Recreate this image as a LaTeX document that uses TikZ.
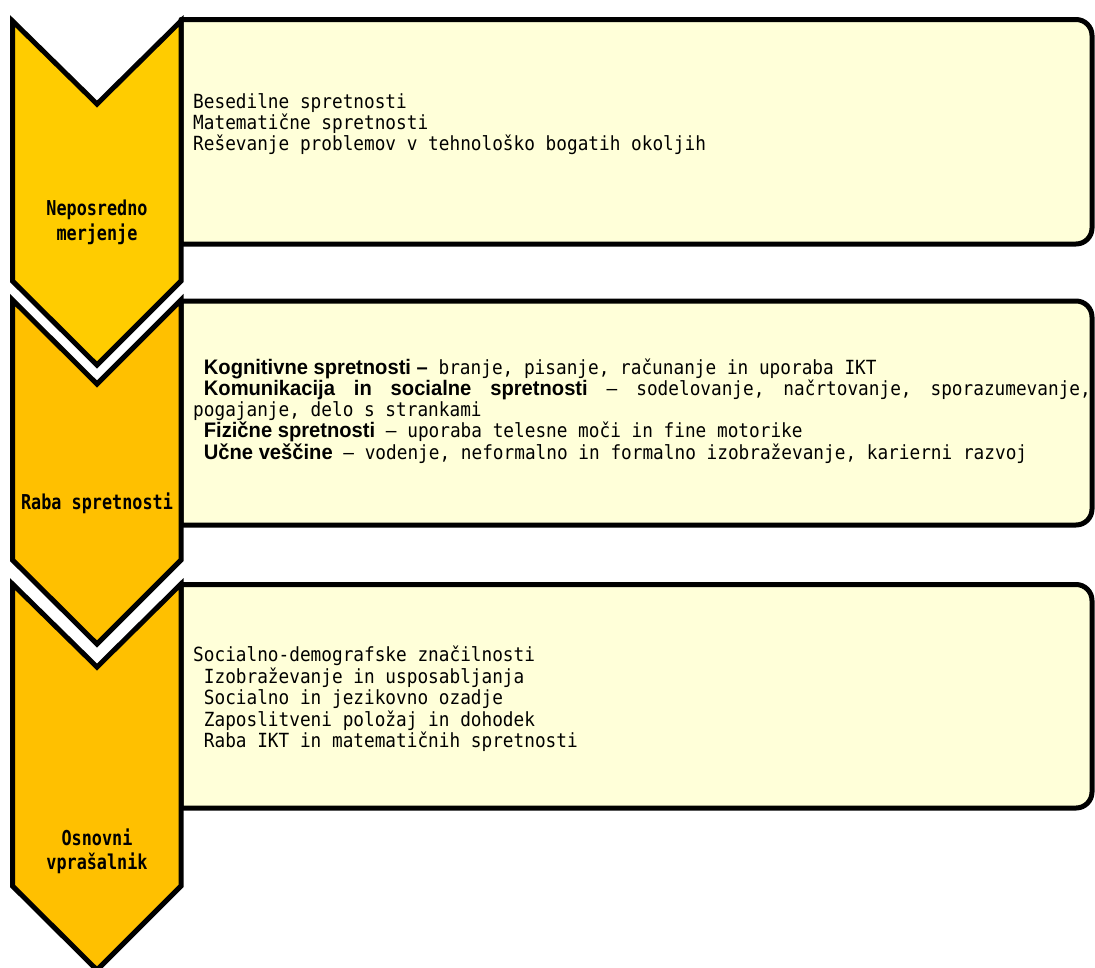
\documentclass[tikz,border=0pt]{standalone}
\usepackage{fontspec}
\newfontfamily\boxfont{DejaVu Sans Mono}[FakeStretch=0.91]
\newfontfamily\labfont{DejaVu Sans Mono}[FakeStretch=0.82]
\newfontfamily\headfont{Liberation Sans}[FakeStretch=0.96]
\definecolor{chevA}{RGB}{255,204,0}
\definecolor{chevB}{RGB}{255,192,0}
\definecolor{boxfill}{RGB}{255,255,217}
\newcommand{\hd}[1]{{\headfont\bfseries\fontsize{21}{21}\selectfont #1}}
\newcommand{\lsp}{\phantom{x}}
\begin{document}
\begin{tikzpicture}[x=1pt,y=-1pt,
  boxshape/.style={draw=black,line width=5pt,fill=boxfill,line join=round},
  chev/.style={draw=black,line width=5pt,line join=miter,miter limit=10},
  boxtext/.style={inner sep=0pt,anchor=base west,font=\boxfont\fontsize{19.5}{21}\selectfont},
  labtext/.style={inner sep=0pt,anchor=base,font=\labfont\bfseries\fontsize{20.5}{25}\selectfont}]
\useasboundingbox (0,0) rectangle (1095,967);

% boxes
\draw[boxshape] (181,19.5) -- (1076,19.5) arc[start angle=90,end angle=0,radius=16pt]
  -- (1092,228) arc[start angle=0,end angle=-90,radius=16pt] -- (181,244) -- cycle;
\draw[boxshape] (181,301) -- (1076,301) arc[start angle=90,end angle=0,radius=16pt]
  -- (1092,509) arc[start angle=0,end angle=-90,radius=16pt] -- (181,525) -- cycle;
\draw[boxshape] (181,584.5) -- (1076,584.5) arc[start angle=90,end angle=0,radius=16pt]
  -- (1092,792) arc[start angle=0,end angle=-90,radius=16pt] -- (181,808) -- cycle;

% chevrons
\draw[chev,fill=chevA] (12.5,21) -- (97,104) -- (181,21) -- (181,281) -- (97,365) -- (12.5,281) -- cycle;
\draw[chev,fill=chevB] (12.5,300) -- (97,384) -- (181,300) -- (181,560) -- (97,644) -- (12.5,560) -- cycle;
\draw[chev,fill=chevB] (12.5,584) -- (97,667) -- (181,584) -- (181,886) -- (97,970) -- (12.5,886) -- cycle;

% chevron labels
\node[labtext] (l1) at (97,215) {\parbox[t]{165pt}{\centering\baselineskip=25pt Neposredno\\merjenje}};
\node[labtext] (l2) at (97,509) {\parbox[t]{165pt}{\centering Raba spretnosti}};
\node[labtext] (l3) at (97,845) {\parbox[t]{165pt}{\centering\baselineskip=24pt Osnovni\\vprašalnik}};

% box texts
\node[boxtext] (t1) at (193,108.5) {\parbox[t]{900pt}{\baselineskip=21pt
Besedilne spretnosti\\
Matematične spretnosti\\
Reševanje problemov v tehnološko bogatih okoljih}};

\node[boxtext] (t2) at (193,374) {\parbox[t]{900pt}{\baselineskip=21.3pt
\lsp\hd{Kognitivne spretnosti –} branje, pisanje, računanje in uporaba IKT\\
\lsp\makebox[887pt][l]{\hd{Komunikacija}\hfill\hd{in}\hfill\hd{socialne}\hfill\hd{spretnosti}\hfill–\hfill sodelovanje,\hfill načrtovanje,\hfill sporazumevanje,}\\
pogajanje, delo s strankami\\
\lsp\hd{Fizične spretnosti} – uporaba telesne moči in fine motorike\\
\lsp\hd{Učne veščine} – vodenje, neformalno in formalno izobraževanje, karierni razvoj}};

\node[boxtext] (t3) at (193,661.5) {\parbox[t]{900pt}{\baselineskip=21.6pt
Socialno-demografske značilnosti\\
\lsp Izobraževanje in usposabljanja\\
\lsp Socialno in jezikovno ozadje\\
\lsp Zaposlitveni položaj in dohodek\\
\lsp Raba IKT in matematičnih spretnosti}};
\end{tikzpicture}
\end{document}
